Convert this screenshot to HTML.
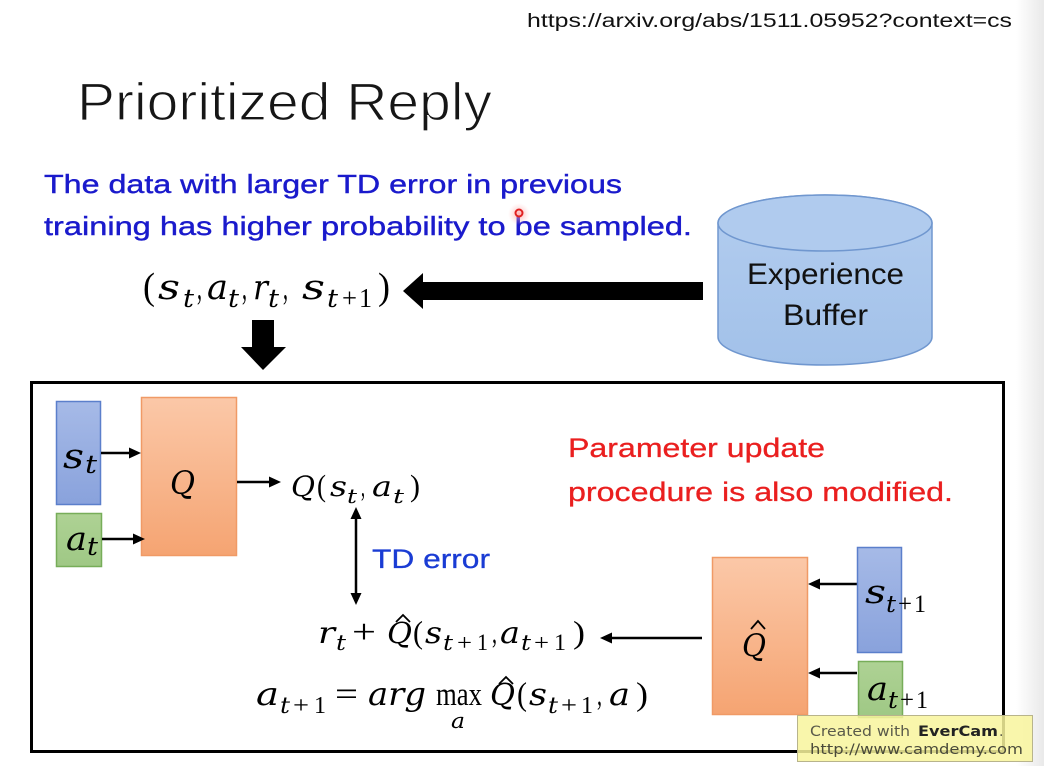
<!DOCTYPE html>
<html><head><meta charset="utf-8">
<style>
html,body{margin:0;padding:0;background:#fff;}
svg{display:block;}
.m{font-family:"DejaVu Serif","Liberation Serif",serif;font-style:italic;fill:#000;}
.u{font-family:"Liberation Serif","DejaVu Serif",serif;fill:#000;}
.s{font-family:"Liberation Sans","DejaVu Sans",sans-serif;}
</style></head><body>
<svg width="1044" height="766" viewBox="0 0 1044 766" xmlns="http://www.w3.org/2000/svg">
<defs>
 <linearGradient id="edge" x1="0" x2="1" y1="0" y2="0"><stop offset="0" stop-color="#ffffff"/><stop offset="1" stop-color="#e9e9e9"/></linearGradient>
 <linearGradient id="og" x1="0" x2="0" y1="0" y2="1"><stop offset="0" stop-color="#fbc8a8"/><stop offset="1" stop-color="#f5a472"/></linearGradient>
 <linearGradient id="bg" x1="0" x2="0" y1="0" y2="1"><stop offset="0" stop-color="#a6bae7"/><stop offset="1" stop-color="#89a2dc"/></linearGradient>
 <linearGradient id="gg" x1="0" x2="0" y1="0" y2="1"><stop offset="0" stop-color="#aed294"/><stop offset="1" stop-color="#9fc885"/></linearGradient>
 <linearGradient id="cg" x1="0" x2="0" y1="0" y2="1"><stop offset="0" stop-color="#b3cdef"/><stop offset="1" stop-color="#a2c1e9"/></linearGradient>
 <radialGradient id="halo"><stop offset="0" stop-color="#ff9090" stop-opacity="0.7"/><stop offset="1" stop-color="#ffc0c0" stop-opacity="0"/></radialGradient>
</defs>
<rect width="1044" height="766" fill="#fff"/>
<rect x="1016" y="0" width="28" height="766" fill="url(#edge)"/>

<!-- URL -->
<text x="527" y="27" class="s" font-size="19" fill="#111" textLength="485" lengthAdjust="spacingAndGlyphs">https://arxiv.org/abs/1511.05952?context=cs</text>

<!-- Title -->
<text x="77" y="120" class="s" font-size="53" fill="#161616" stroke="#fff" stroke-width="1.2" textLength="415" lengthAdjust="spacingAndGlyphs">Prioritized Reply</text>

<!-- Blue description -->
<text x="44" y="193" class="s" font-size="26" fill="#1a1acc" stroke="#1a1acc" stroke-width="0.4" textLength="578" lengthAdjust="spacingAndGlyphs">The data with larger TD error in previous</text>
<text x="44" y="235" class="s" font-size="26" fill="#1a1acc" stroke="#1a1acc" stroke-width="0.4" textLength="648" lengthAdjust="spacingAndGlyphs">training has higher probability to be sampled.</text>

<!-- cursor -->
<circle cx="519" cy="214" r="11" fill="url(#halo)"/>
<circle cx="519" cy="213" r="3.5" fill="none" stroke="#e02020" stroke-width="2"/>

<!-- Cylinder -->
<path d="M718,223 L718,337 A107,28 0 0 0 932,337 L932,223 A107,28 0 0 0 718,223 Z" fill="url(#cg)" stroke="#7097cf" stroke-width="1.5"/>
<ellipse cx="825" cy="223" rx="107" ry="28" fill="#b0cbee" stroke="#7097cf" stroke-width="1.5"/>
<text x="747" y="284" class="s" font-size="30" fill="#111" textLength="157" lengthAdjust="spacingAndGlyphs">Experience</text>
<text x="783" y="325" class="s" font-size="30" fill="#111" textLength="85" lengthAdjust="spacingAndGlyphs">Buffer</text>

<!-- Tuple -->
<g>
<text class="u" x="143" y="299" font-size="38" textLength="12" lengthAdjust="spacingAndGlyphs">(</text>
<text class="m" x="158" y="299" font-size="35" textLength="22" lengthAdjust="spacingAndGlyphs">s</text>
<text class="m" x="183" y="307" font-size="25" textLength="11" lengthAdjust="spacingAndGlyphs">t</text>
<text class="u" x="197" y="299" font-size="38" textLength="5" lengthAdjust="spacingAndGlyphs">,</text>
<text class="m" x="207" y="299" font-size="35" textLength="21" lengthAdjust="spacingAndGlyphs">a</text>
<text class="m" x="228" y="307" font-size="25" textLength="11" lengthAdjust="spacingAndGlyphs">t</text>
<text class="u" x="242" y="299" font-size="38" textLength="5" lengthAdjust="spacingAndGlyphs">,</text>
<text class="m" x="253" y="299" font-size="35" textLength="15" lengthAdjust="spacingAndGlyphs">r</text>
<text class="m" x="268" y="307" font-size="25" textLength="11" lengthAdjust="spacingAndGlyphs">t</text>
<text class="u" x="283" y="299" font-size="38" textLength="5" lengthAdjust="spacingAndGlyphs">,</text>
<text class="m" x="302" y="299" font-size="35" textLength="23" lengthAdjust="spacingAndGlyphs">s</text>
<text class="m" x="327" y="307" font-size="25" textLength="11" lengthAdjust="spacingAndGlyphs">t</text>
<text class="u" x="342" y="307" font-size="27" textLength="15" lengthAdjust="spacingAndGlyphs">+</text>
<text class="u" x="359" y="307" font-size="27" textLength="13" lengthAdjust="spacingAndGlyphs">1</text>
<text class="u" x="378" y="299" font-size="38" textLength="12" lengthAdjust="spacingAndGlyphs">)</text>
</g>

<!-- Big arrows -->
<polygon points="403,291 423,273 423,282 703,282 703,300 423,300 423,309" fill="#000"/>
<polygon points="252,320 274,320 274,347 286,347 263,370 241,347 252,347" fill="#000"/>

<!-- Main box -->
<rect x="31.5" y="382.5" width="972" height="369" fill="none" stroke="#000" stroke-width="3"/>

<!-- Left network -->
<rect x="56.5" y="401.5" width="44" height="103" fill="url(#bg)" stroke="#5b7fcb" stroke-width="1.5"/>
<rect x="56.5" y="513.5" width="45" height="53" fill="url(#gg)" stroke="#77ad59" stroke-width="1.5"/>
<rect x="141.5" y="397.5" width="95" height="158" fill="url(#og)" stroke="#f09a66" stroke-width="1.5"/>
<text class="m" x="63" y="468" font-size="35" textLength="21" lengthAdjust="spacingAndGlyphs">s</text>
<text class="m" x="85" y="473" font-size="25" textLength="12" lengthAdjust="spacingAndGlyphs">t</text>
<text class="m" x="66" y="550" font-size="33" textLength="21" lengthAdjust="spacingAndGlyphs">a</text>
<text class="m" x="87" y="555" font-size="25" textLength="11" lengthAdjust="spacingAndGlyphs">t</text>
<text class="m" x="170" y="494" font-size="32" textLength="25" lengthAdjust="spacingAndGlyphs">Q</text>

<!-- small arrows -->
<g stroke="#000" stroke-width="2.5">
<line x1="101" y1="453" x2="131" y2="453"/>
<line x1="102" y1="539" x2="135" y2="539"/>
<line x1="237" y1="482" x2="270" y2="482"/>
<line x1="356" y1="517" x2="356" y2="595"/>
<line x1="702" y1="638" x2="611" y2="638"/>
<line x1="857" y1="584" x2="819" y2="584"/>
<line x1="857" y1="673" x2="819" y2="673"/>
</g>
<g fill="#000">
<polygon points="141,453 129,447.5 129,458.5"/>
<polygon points="145,539 133,533.5 133,544.5"/>
<polygon points="281,482 269,476.5 269,487.5"/>
<polygon points="356,507 350.5,519 361.5,519"/>
<polygon points="356,605 350.5,593 361.5,593"/>
<polygon points="600,638 612,632.5 612,643.5"/>
<polygon points="808,584 820,578.5 820,589.5"/>
<polygon points="808,673 820,667.5 820,678.5"/>
</g>

<!-- Q(s_t,a_t) -->
<text class="m" x="291" y="496" font-size="28" textLength="24" lengthAdjust="spacingAndGlyphs">Q</text>
<text class="u" x="317" y="496" font-size="31" textLength="9" lengthAdjust="spacingAndGlyphs">(</text>
<text class="m" x="330" y="496" font-size="28" textLength="17" lengthAdjust="spacingAndGlyphs">s</text>
<text class="m" x="347" y="503" font-size="20" textLength="10" lengthAdjust="spacingAndGlyphs">t</text>
<text class="u" x="361" y="496" font-size="31" textLength="4" lengthAdjust="spacingAndGlyphs">,</text>
<text class="m" x="372" y="496" font-size="28" textLength="20" lengthAdjust="spacingAndGlyphs">a</text>
<text class="m" x="393" y="503" font-size="20" textLength="11" lengthAdjust="spacingAndGlyphs">t</text>
<text class="u" x="410" y="496" font-size="31" textLength="10" lengthAdjust="spacingAndGlyphs">)</text>

<!-- TD error -->
<text x="372" y="568" class="s" font-size="27" fill="#1a3cd4" stroke="#1a3cd4" stroke-width="0.3" textLength="118" lengthAdjust="spacingAndGlyphs">TD error</text>

<!-- Red text -->
<text x="568" y="457" class="s" font-size="27" fill="#ea1f1f" stroke="#ea1f1f" stroke-width="0.3" textLength="257" lengthAdjust="spacingAndGlyphs">Parameter update</text>
<text x="568" y="501" class="s" font-size="27" fill="#ea1f1f" stroke="#ea1f1f" stroke-width="0.3" textLength="385" lengthAdjust="spacingAndGlyphs">procedure is also modified.</text>

<!-- Formula 1 -->
<text class="m" x="318" y="643" font-size="30" textLength="17" lengthAdjust="spacingAndGlyphs">r</text>
<text class="m" x="336" y="650" font-size="21" textLength="10" lengthAdjust="spacingAndGlyphs">t</text>
<text class="u" x="352" y="643" font-size="34" textLength="24" lengthAdjust="spacingAndGlyphs">+</text>
<text class="m" x="387" y="643" font-size="29" textLength="25" lengthAdjust="spacingAndGlyphs">Q</text>
<path d="M396,622 L403,615 L410,622" fill="none" stroke="#000" stroke-width="1.8"/>
<text class="u" x="413" y="643" font-size="32" textLength="10" lengthAdjust="spacingAndGlyphs">(</text>
<text class="m" x="425" y="643" font-size="30" textLength="17" lengthAdjust="spacingAndGlyphs">s</text>
<text class="m" x="443" y="650" font-size="21" textLength="10" lengthAdjust="spacingAndGlyphs">t</text>
<text class="u" x="457" y="650" font-size="23" textLength="15" lengthAdjust="spacingAndGlyphs">+</text>
<text class="u" x="477" y="650" font-size="23" textLength="11" lengthAdjust="spacingAndGlyphs">1</text>
<text class="u" x="492" y="643" font-size="32" textLength="5" lengthAdjust="spacingAndGlyphs">,</text>
<text class="m" x="500" y="643" font-size="30" textLength="20" lengthAdjust="spacingAndGlyphs">a</text>
<text class="m" x="521" y="650" font-size="21" textLength="10" lengthAdjust="spacingAndGlyphs">t</text>
<text class="u" x="534" y="650" font-size="23" textLength="15" lengthAdjust="spacingAndGlyphs">+</text>
<text class="u" x="554" y="650" font-size="23" textLength="12" lengthAdjust="spacingAndGlyphs">1</text>
<text class="u" x="573" y="643" font-size="32" textLength="12" lengthAdjust="spacingAndGlyphs">)</text>

<!-- Formula 2 -->
<text class="m" x="256" y="705" font-size="32" textLength="23" lengthAdjust="spacingAndGlyphs">a</text>
<text class="m" x="280" y="713" font-size="22" textLength="10" lengthAdjust="spacingAndGlyphs">t</text>
<text class="u" x="293" y="713" font-size="24" textLength="16" lengthAdjust="spacingAndGlyphs">+</text>
<text class="u" x="314" y="713" font-size="24" textLength="12" lengthAdjust="spacingAndGlyphs">1</text>
<text class="u" x="335" y="705" font-size="34" textLength="23" lengthAdjust="spacingAndGlyphs">=</text>
<text class="m" x="368" y="705" font-size="32" textLength="58" lengthAdjust="spacingAndGlyphs">arg</text>
<text class="u" x="436" y="705" font-size="33" textLength="46" lengthAdjust="spacingAndGlyphs">max</text>
<text class="m" x="451" y="728" font-size="21" textLength="14" lengthAdjust="spacingAndGlyphs">a</text>
<text class="m" x="490" y="705" font-size="30" textLength="25" lengthAdjust="spacingAndGlyphs">Q</text>
<path d="M499,684 L506,677 L513,684" fill="none" stroke="#000" stroke-width="1.8"/>
<text class="u" x="517" y="705" font-size="33" textLength="10" lengthAdjust="spacingAndGlyphs">(</text>
<text class="m" x="529" y="705" font-size="31" textLength="18" lengthAdjust="spacingAndGlyphs">s</text>
<text class="m" x="548" y="713" font-size="22" textLength="10" lengthAdjust="spacingAndGlyphs">t</text>
<text class="u" x="561" y="713" font-size="24" textLength="16" lengthAdjust="spacingAndGlyphs">+</text>
<text class="u" x="581" y="713" font-size="24" textLength="12" lengthAdjust="spacingAndGlyphs">1</text>
<text class="u" x="597" y="705" font-size="33" textLength="5" lengthAdjust="spacingAndGlyphs">,</text>
<text class="m" x="609" y="705" font-size="31" textLength="21" lengthAdjust="spacingAndGlyphs">a</text>
<text class="u" x="636" y="705" font-size="33" textLength="12" lengthAdjust="spacingAndGlyphs">)</text>

<!-- Right network -->
<rect x="712.5" y="557.5" width="95" height="157" fill="url(#og)" stroke="#f09a66" stroke-width="1.5"/>
<rect x="857.5" y="547.5" width="44" height="105" fill="url(#bg)" stroke="#5b7fcb" stroke-width="1.5"/>
<rect x="858.5" y="661.5" width="44" height="56" fill="url(#gg)" stroke="#77ad59" stroke-width="1.5"/>
<text class="m" x="742" y="656" font-size="31" textLength="24" lengthAdjust="spacingAndGlyphs">Q</text>
<path d="M751,629 L758,621 L765,629" fill="none" stroke="#000" stroke-width="1.8"/>
<text class="m" x="865" y="603" font-size="33" textLength="21" lengthAdjust="spacingAndGlyphs">s</text>
<text class="m" x="886" y="612" font-size="23" textLength="10" lengthAdjust="spacingAndGlyphs">t</text>
<text class="u" x="898" y="612" font-size="25" textLength="14" lengthAdjust="spacingAndGlyphs">+</text>
<text class="u" x="914" y="612" font-size="25" textLength="12" lengthAdjust="spacingAndGlyphs">1</text>
<text class="m" x="867" y="700" font-size="33" textLength="21" lengthAdjust="spacingAndGlyphs">a</text>
<text class="m" x="888" y="708" font-size="23" textLength="10" lengthAdjust="spacingAndGlyphs">t</text>
<text class="u" x="900" y="708" font-size="25" textLength="14" lengthAdjust="spacingAndGlyphs">+</text>
<text class="u" x="916" y="708" font-size="25" textLength="12" lengthAdjust="spacingAndGlyphs">1</text>

<!-- Watermark -->
<rect x="797.5" y="715.5" width="235" height="46" fill="#f8f49c" fill-opacity="0.85" stroke="#b8b48c" stroke-width="1"/>
<text x="810" y="736" font-family="'DejaVu Sans',sans-serif" font-size="14" fill="#5a5a4a" textLength="100" lengthAdjust="spacingAndGlyphs">Created with</text>
<text x="918" y="736" font-family="'DejaVu Sans',sans-serif" font-size="14" font-weight="bold" fill="#222" textLength="80" lengthAdjust="spacingAndGlyphs">EverCam</text>
<text x="999" y="736" font-family="'DejaVu Sans',sans-serif" font-size="14" fill="#5a5a4a">.</text>
<text x="810" y="754" font-family="'DejaVu Sans',sans-serif" font-size="14" fill="#4a4a3a" textLength="213" lengthAdjust="spacingAndGlyphs">http://www.camdemy.com</text>
</svg>
</body></html>
